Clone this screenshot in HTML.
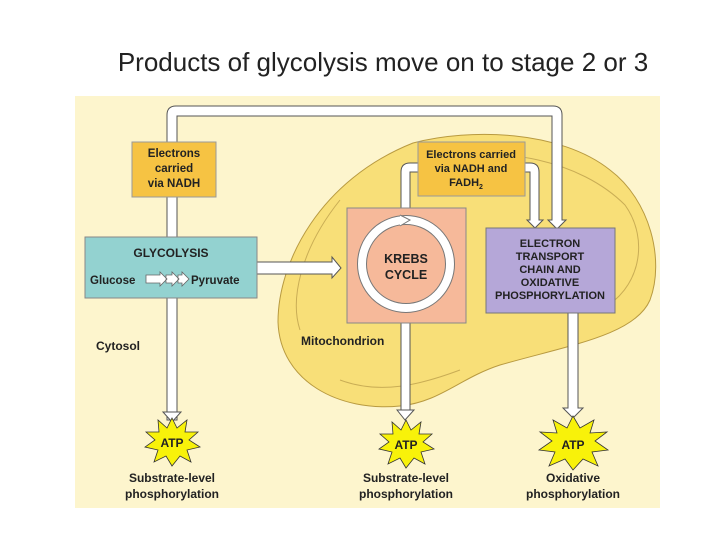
<!DOCTYPE html>
<html><head><meta charset="utf-8"><style>
body{margin:0;width:720px;height:540px;background:#fff;overflow:hidden;font-family:"Liberation Sans",sans-serif}
</style></head><body>
<svg width="720" height="540" viewBox="0 0 720 540" xmlns="http://www.w3.org/2000/svg" font-family="Liberation Sans, sans-serif">
<text x="383" y="71" font-size="26" text-anchor="middle" fill="#222" font-family="Liberation Sans, sans-serif">Products of glycolysis move on to stage 2 or 3</text>
<rect x="75" y="96" width="585" height="412" fill="#fdf5cd"/>
<path d="M413,143 C470,128 560,130 610,170 C650,200 665,260 650,300 C635,335 570,345 500,365 C460,378 440,402 400,406 C340,412 280,382 278,322 C278,262 320,180 413,143 Z" fill="#f8df78" stroke="#b89a40" stroke-width="1"/>
<path d="M300,330 C290,300 300,250 340,200 M440,160 C500,145 580,160 625,205 C650,240 640,290 600,310 M340,380 C380,395 420,385 460,370" fill="none" stroke="#c9ad55" stroke-width="1"/>
<g fill="#fff" stroke="#555" stroke-width="1">
<!-- left loop -->
<path d="M167,420 L167,115 Q167,106 176,106 L553,106 Q562,106 562,115 L562,220 L566,220 L557,229 L548,220 L552,220 L552,116 L177,116 L177,420 Z"/>
<path d="M163,412 L172,422 L181,412 Z"/>
<!-- inner loop -->
<path d="M401,413 L401,172 Q401,163 410,163 L530,163 Q539,163 539,172 L539,220 L543,220 L535,228 L527,220 L530,220 L530,172 L410,172 L410,413 Z"/>
<path d="M397,410 L405,420 L414,410 Z"/>
<!-- ETC down -->
<path d="M568,313 L578,313 L578,408 L583,408 L573,418 L563,408 L568,408 Z"/>
<!-- glycolysis arrow -->
<path d="M257,262 L332,262 L332,257 L341,268 L332,278 L332,274 L257,274 Z"/>
</g>
<rect x="132" y="142" width="84" height="55" fill="#f6c343" stroke="#999"/>
<text font-size="11.5" font-weight="bold" text-anchor="middle" fill="#222"><tspan x="174" y="157">Electrons</tspan><tspan x="174" y="172">carried</tspan><tspan x="174" y="187">via NADH</tspan></text>
<rect x="418" y="142" width="107" height="54" fill="#f6c343" stroke="#999"/>
<text font-size="11" font-weight="bold" text-anchor="middle" fill="#222"><tspan x="471" y="158">Electrons carried</tspan><tspan x="471" y="172">via NADH and</tspan><tspan x="466" y="186">FADH</tspan><tspan font-size="7" dy="3">2</tspan></text>
<rect x="85" y="237" width="172" height="61" fill="#93d2d0" stroke="#888"/>
<text x="171" y="257" font-size="12" font-weight="bold" text-anchor="middle" fill="#222">GLYCOLYSIS</text>
<text x="90" y="284" font-size="11.5" font-weight="bold" fill="#222">Glucose</text>
<text x="191" y="284" font-size="11.5" font-weight="bold" fill="#222">Pyruvate</text>
<path d="M146,275 L160,275 L160,272 L167,279 L160,286 L160,283 L146,283 Z M166,275 L172,275 L172,272 L179,279 L172,286 L172,283 L166,283 Z M178,275 L182,275 L182,272 L189,279 L182,286 L182,283 L178,283 Z" fill="#fff" stroke="#666" stroke-width="0.8"/>
<rect x="347" y="208" width="119" height="115" fill="#f6b99a" stroke="#888"/>
<circle cx="406" cy="264" r="44" fill="none" stroke="#777" stroke-width="10"/>
<circle cx="406" cy="264" r="44" fill="none" stroke="#fff" stroke-width="8"/>
<path d="M400,215 L410,220 L400,226" fill="#fff" stroke="#777"/>
<text font-size="12.5" font-weight="bold" text-anchor="middle" fill="#222"><tspan x="406" y="263">KREBS</tspan><tspan x="406" y="279">CYCLE</tspan></text>
<rect x="486" y="228" width="129" height="85" fill="#b5a7d8" stroke="#777"/>
<text font-size="11" font-weight="bold" text-anchor="middle" fill="#222"><tspan x="550" y="247">ELECTRON</tspan><tspan x="550" y="260">TRANSPORT</tspan><tspan x="550" y="273">CHAIN AND</tspan><tspan x="550" y="286">OXIDATIVE</tspan><tspan x="550" y="299">PHOSPHORYLATION</tspan></text>
<text x="96" y="350" font-size="12" font-weight="bold" fill="#222">Cytosol</text>
<text x="301" y="345" font-size="12" font-weight="bold" fill="#222">Mitochondrion</text>
<g fill="#f8f20a" stroke="#333" stroke-width="0.8">
<polygon points="172,418 177,428 187,420 185,432 198,432 189,440 200,447 187,450 191,462 180,456 172,466 166,456 154,462 158,450 145,447 155,440 146,432 159,432 158,420 167,428"/>
<polygon points="406,420 411,430 421,422 419,434 432,434 423,442 434,449 421,452 425,464 414,458 406,468 400,458 388,464 392,452 379,449 389,442 380,434 393,434 392,422 401,430"/>
<polygon points="573,416 580,428 594,420 590,433 607,432 595,441 608,450 592,452 598,466 583,459 573,470 565,459 549,466 555,452 539,450 552,441 540,432 557,433 553,420 567,428"/>
</g>
<text font-size="12" font-weight="bold" text-anchor="middle" fill="#222"><tspan x="172" y="447">ATP</tspan><tspan x="406" y="449">ATP</tspan><tspan x="573" y="449">ATP</tspan></text>
<text font-size="12" font-weight="bold" text-anchor="middle" fill="#222"><tspan x="172" y="482">Substrate-level</tspan><tspan x="172" y="498">phosphorylation</tspan><tspan x="406" y="482">Substrate-level</tspan><tspan x="406" y="498">phosphorylation</tspan><tspan x="573" y="482">Oxidative</tspan><tspan x="573" y="498">phosphorylation</tspan></text>
</svg>
</body></html>
